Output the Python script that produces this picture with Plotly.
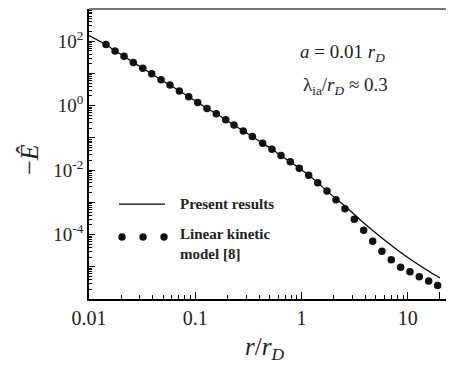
import plotly.graph_objects as go

# ---- data ----
dot_r = [0.01445, 0.01758, 0.02135, 0.0261, 0.03205, 0.0389, 0.0476, 0.0578, 0.0708, 0.0867,
         0.1054, 0.1289, 0.1577, 0.1932, 0.2313, 0.283, 0.344, 0.4305, 0.5266, 0.640,
         0.783, 0.9515, 1.166, 1.418, 1.734, 2.107, 2.559, 3.131, 3.837, 4.667,
         5.70, 6.98, 8.55, 10.46, 12.80, 15.70, 19.06]
dot_E = [78.5, 50.1, 34.4, 21.8, 14.6, 9.75, 6.36, 4.36, 2.84, 1.89,
         1.26, 0.822, 0.564, 0.368, 0.252, 0.164, 0.110, 0.0681, 0.0444, 0.0283,
         0.0181, 0.01146, 0.00697, 0.00405, 0.00223, 0.00121, 6.37e-4, 2.97e-4, 1.355e-4, 6.19e-5,
         3.04e-5, 1.64e-5, 9.72e-6, 6.97e-6, 4.88e-6, 3.59e-6, 2.64e-6]

line_r = [0.01, 0.01445, 0.01758, 0.02135, 0.0261, 0.03205, 0.0389, 0.0476, 0.0578, 0.0708, 0.0867,
          0.1054, 0.1289, 0.1577, 0.1932, 0.2313, 0.283, 0.344, 0.4305, 0.5266, 0.640,
          0.783, 0.9515, 1.166, 1.418, 1.734, 2.654, 3.80, 5.47, 7.85, 11.25, 16.15, 20.05]
line_E = [151, 78.5, 50.1, 34.4, 21.8, 14.6, 9.75, 6.36, 4.36, 2.84, 1.89,
          1.26, 0.822, 0.564, 0.368, 0.252, 0.164, 0.110, 0.0681, 0.0444, 0.0283,
          0.0181, 0.01146, 0.00697, 0.00405, 0.00223, 6.93e-4, 2.37e-4, 8.73e-5, 3.46e-5,
          1.48e-5, 6.85e-6, 4.48e-6]

x_tickvals = [0.01, 0.1, 1, 10, 20]
x_ticktext = ["0.01", "0.1", "1", "10", ""]
y_label_exps = [2, 0, -2, -4]

legend_line_label = "Present results"
legend_dot_label = "Linear kinetic<br>model [8]"
note1 = "<i>a</i> = 0.01 <i>r</i><sub><i>D</i></sub>"
note2 = "λ<sub>ia</sub>/<i>r</i><sub><i>D</i></sub> ≈ 0.3"
x_title = "<i>r</i>/<i>r</i><sub><i>D</i></sub>"
y_title = "−<i>Ê</i>"

SERIF = "Liberation Serif"

fig = go.Figure()
fig.add_trace(go.Scatter(x=line_r, y=line_E, mode="lines",
                         line=dict(color="black", width=1.2, shape="spline", smoothing=0.6),
                         showlegend=False, hoverinfo="skip"))
fig.add_trace(go.Scatter(x=dot_r, y=dot_E, mode="markers",
                         marker=dict(color="#111", size=7.5, line=dict(width=0)),
                         showlegend=False, hoverinfo="skip"))

x_minor = [m * 10 ** d for d in range(-2, 2) for m in range(2, 10) if m * 10 ** d not in (20,)]
y_major = [10.0 ** e for e in range(-6, 4)]
y_text = [("10<sup>%d</sup>" % e) if e in y_label_exps else "" for e in range(-6, 4)]
y_minor = [m * 10.0 ** e for e in range(-6, 3) for m in range(2, 10)]

fig.update_xaxes(type="log", range=[-2, 1.434], automargin=False,
                 tickmode="array", tickvals=x_tickvals, ticktext=x_ticktext,
                 ticks="inside", ticklen=7, tickwidth=1, tickcolor="black",
                 minor=dict(tickmode="array", tickvals=x_minor, ticks="inside", ticklen=4,
                            tickwidth=1, tickcolor="black", showgrid=False),
                 showline=True, linecolor="black", linewidth=1.5, mirror=False,
                 showgrid=False, zeroline=False,
                 tickfont=dict(family=SERIF, size=20, color="#222"))
fig.update_yaxes(type="log", range=[-6, 3], automargin=False,
                 tickmode="array", tickvals=y_major, ticktext=y_text,
                 ticks="inside", ticklen=6, tickwidth=1, tickcolor="black",
                 minor=dict(tickmode="array", tickvals=y_minor, ticks="inside", ticklen=3,
                            tickwidth=1, tickcolor="black", showgrid=False),
                 showline=True, linecolor="black", linewidth=1.5, mirror=False,
                 showgrid=False, zeroline=False,
                 tickfont=dict(family=SERIF, size=19, color="#222"))

shapes = [
    dict(type="line", xref="paper", yref="paper", x0=0, x1=1, y0=1, y1=1,
         line=dict(color="#777", width=2)),
    dict(type="line", xref="paper", yref="paper", x0=0.082, x1=0.208, y0=0.327, y1=0.327,
         line=dict(color="black", width=1.2)),
]
for px in (0.0904, 0.148, 0.2055):
    shapes.append(dict(type="circle", xref="paper", yref="paper", xsizemode="pixel",
                       ysizemode="pixel", xanchor=px, yanchor=0.214,
                       x0=-3.7, x1=3.7, y0=-3.7, y1=3.7,
                       fillcolor="#111", line=dict(width=0)))

annotations = [
    dict(text=note1, xref="paper", yref="paper", x=0.694, y=0.848, showarrow=False,
         font=dict(family=SERIF, size=19, color="#222"), xanchor="center", yanchor="middle"),
    dict(text=note2, xref="paper", yref="paper", x=0.704, y=0.733, showarrow=False,
         font=dict(family=SERIF, size=19, color="#222"), xanchor="center", yanchor="middle"),
    dict(text="<b>%s</b>" % legend_line_label, xref="paper", yref="paper", x=0.244, y=0.327,
         showarrow=False, font=dict(family=SERIF, size=15, color="#222"),
         xanchor="left", yanchor="middle"),
    dict(text="<b>%s</b>" % legend_dot_label, xref="paper", yref="paper", x=0.244, y=0.190,
         showarrow=False, font=dict(family=SERIF, size=15, color="#222"),
         xanchor="left", yanchor="middle", align="left"),
    # axis titles placed relative to the plot area
    dict(text=x_title, xref="paper", yref="paper", x=0.48, y=-0.172, showarrow=False,
         font=dict(family=SERIF, size=25, color="#222"), xanchor="center", yanchor="middle"),
    dict(text=y_title, xref="paper", yref="paper", x=-0.162, y=0.483, showarrow=False,
         textangle=-90, font=dict(family=SERIF, size=26, color="#222"),
         xanchor="center", yanchor="middle"),
]

# the page body adds an 8 px margin, so the figure is sized to end at the window edge
fig.update_layout(width=446, height=359, margin=dict(l=81, r=0, t=1, b=68),
                  paper_bgcolor="white", plot_bgcolor="white",
                  font=dict(family=SERIF),
                  shapes=shapes, annotations=annotations, showlegend=False)

fig.write_html("out.html")
